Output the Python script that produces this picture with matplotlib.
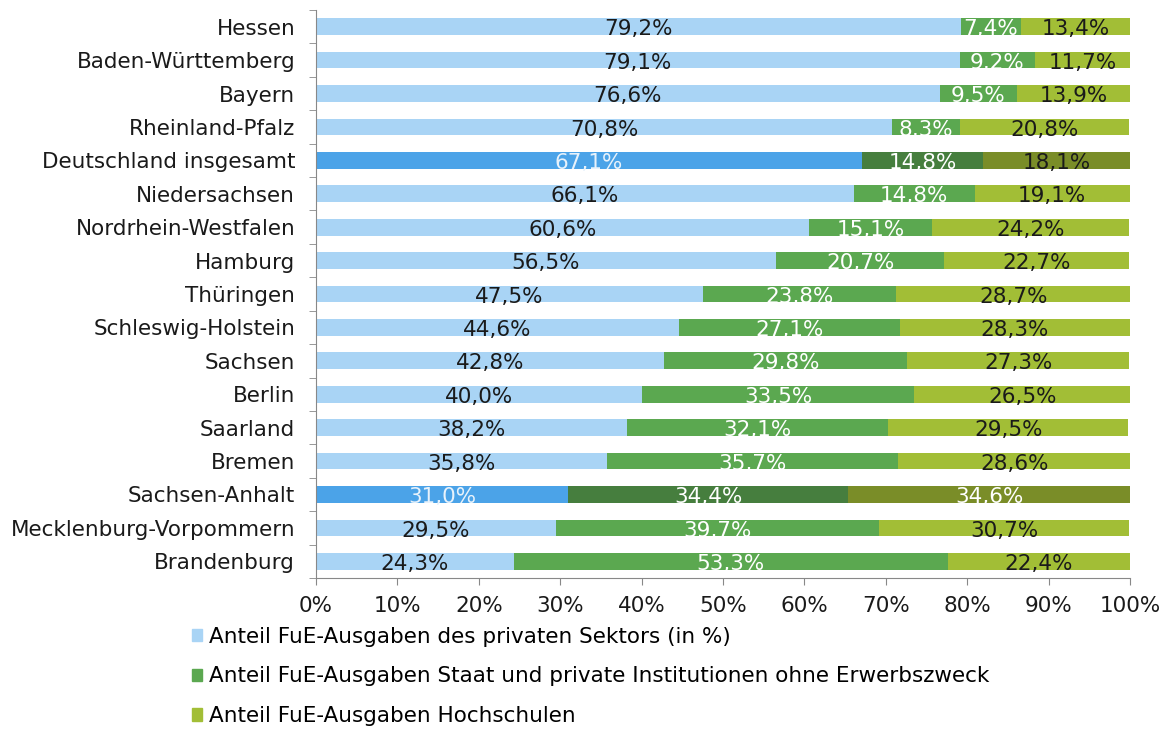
import matplotlib
matplotlib.use("Agg")
import matplotlib.pyplot as plt
from matplotlib.patches import Patch
import numpy as np

plt.rcParams['font.family'] = ['DejaVu Sans']

regions = ["Hessen", "Baden-Württemberg", "Bayern", "Rheinland-Pfalz",
           "Deutschland insgesamt", "Niedersachsen", "Nordrhein-Westfalen",
           "Hamburg", "Thüringen", "Schleswig-Holstein", "Sachsen", "Berlin",
           "Saarland", "Bremen", "Sachsen-Anhalt", "Mecklenburg-Vorpommern",
           "Brandenburg"]
privat = [79.2, 79.1, 76.6, 70.8, 67.1, 66.1, 60.6, 56.5, 47.5, 44.6, 42.8,
          40.0, 38.2, 35.8, 31.0, 29.5, 24.3]
staat = [7.4, 9.2, 9.5, 8.3, 14.8, 14.8, 15.1, 20.7, 23.8, 27.1, 29.8,
         33.5, 32.1, 35.7, 34.4, 39.7, 53.3]
hochschulen = [13.4, 11.7, 13.9, 20.8, 18.1, 19.1, 24.2, 22.7, 28.7, 28.3,
               27.3, 26.5, 29.5, 28.6, 34.6, 30.7, 22.4]
highlight = ["Deutschland insgesamt", "Sachsen-Anhalt"]
series_names = ["Anteil FuE-Ausgaben des privaten Sektors (in %)",
                "Anteil FuE-Ausgaben Staat und private Institutionen ohne Erwerbszweck",
                "Anteil FuE-Ausgaben Hochschulen"]

base_colors = ["#A9D4F5", "#5BA850", "#A2BE36"]
hi_colors = ["#4BA3E8", "#467E3E", "#7A8D28"]
base_text = ["#1a1a1a", "white", "#1a1a1a"]
hi_text = {"Deutschland insgesamt": ["#e8f2fb", "white", "#1a1a1a"],
           "Sachsen-Anhalt": ["#e8f2fb", "white", "white"]}

fig = plt.figure(figsize=(11.71, 7.29), dpi=100)
ax = fig.add_axes([316/1171, 1-578/729, (1130-316)/1171, (578-10)/729])

n = len(regions)
y = np.arange(n)
series = [privat, staat, hochschulen]
left = np.zeros(n)
for s, vals in enumerate(series):
    vals = np.array(vals)
    cols = [hi_colors[s] if r in highlight else base_colors[s] for r in regions]
    ax.barh(y, vals, left=left, height=0.5, color=cols, edgecolor='none')
    for i, r in enumerate(regions):
        tc = hi_text[r][s] if r in highlight else base_text[s]
        ax.text(left[i] + vals[i] / 2, y[i] + 0.08,
                f"{vals[i]:.1f}%".replace(".", ","),
                ha='center', va='center', fontsize=15.5, color=tc)
    left = left + vals

ax.set_xlim(0, 100)
ax.set_ylim(n - 0.5, -0.5)
ax.set_yticks(y)
ax.set_yticklabels(regions, fontsize=15.5, color='#1a1a1a')
ax.tick_params(axis='y', which='major', length=0, pad=15)
ax.set_yticks(np.arange(n + 1) - 0.5, minor=True)
ax.tick_params(axis='y', which='minor', length=5, color='#888888')
ax.set_xticks(np.arange(0, 101, 10))
ax.set_xticklabels([f"{v}%" for v in range(0, 101, 10)], fontsize=15.5, color='#1a1a1a')
ax.tick_params(axis='x', length=5, color='#888888', pad=8)
for sp in ['top', 'right']:
    ax.spines[sp].set_visible(False)
for sp in ['left', 'bottom']:
    ax.spines[sp].set_color('#888888')

handles = [Patch(color=c) for c in base_colors]
fig.legend(handles, series_names, loc='upper left',
           bbox_to_anchor=(183/1171, 1-618/729), frameon=False,
           fontsize=15.5, handlelength=0.5, handleheight=0.5,
           handletextpad=0.3, labelspacing=0.92, borderaxespad=0)

fig.savefig("out.png", dpi=100)
